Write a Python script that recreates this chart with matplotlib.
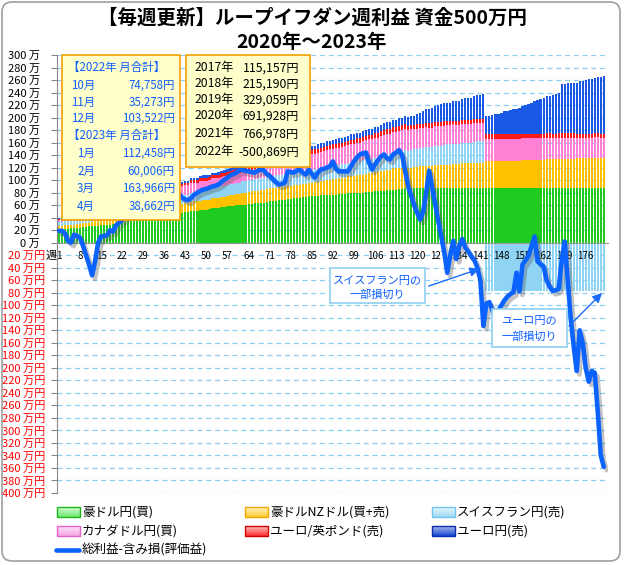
import numpy as np
import matplotlib.pyplot as plt
import matplotlib.patheffects as pe
from matplotlib.patches import Rectangle, FancyBboxPatch
from matplotlib.colors import LinearSegmentedColormap

plt.rcParams['font.family'] = ['Noto Sans CJK JP', 'DejaVu Sans']

### data (万円), one value per week
weeks = list(range(1, 183))

aud_jpy = [
    21, 21, 22, 22, 23, 23, 24, 24, 25, 25,
    26, 26, 27, 27, 28, 28, 29, 29, 30, 30,
    31, 32, 33, 34, 35, 36, 37, 38, 39, 40,
    41, 42, 42, 43, 44, 44, 45, 46, 46, 47,
    48, 48, 49, 49, 50, 51, 51, 52, 53, 53,
    54, 55, 55, 56, 57, 57, 58, 59, 59, 60,
    60, 61, 61, 62, 62, 63, 63, 64, 64, 65,
    66, 66, 67, 68, 68, 69, 70, 70, 71, 72,
    72, 73, 73, 74, 75, 75, 75, 76, 76, 76,
    77, 77, 77, 78, 78, 78, 79, 79, 79, 80,
    80, 80, 81, 81, 81, 82, 82, 83, 83, 84,
    84, 85, 85, 86, 86, 87, 87, 87, 88, 88,
    88, 88, 88, 88, 88, 88, 88, 88, 88, 88,
    88, 88, 88, 88, 88, 88, 88, 88, 88, 88,
    88, 88, 88, 88, 88, 88, 88, 88, 88, 88,
    88, 88, 88, 88, 88, 88, 88, 88, 88, 88,
    88, 88, 88, 88, 88, 88, 88, 88, 88, 88,
    88, 88, 88, 88, 88, 88, 88, 88, 88, 88,
    88, 88]

aud_nzd = [
    6, 6, 6, 6, 6, 6, 6, 6, 6, 6,
    6, 7, 7, 7, 7, 7, 7, 8, 8, 8,
    8, 8, 8, 9, 9, 9, 9, 10, 10, 10,
    10, 11, 11, 11, 12, 12, 12, 13, 13, 13,
    14, 14, 14, 14, 15, 15, 15, 15, 15, 15,
    15, 16, 16, 16, 16, 16, 16, 17, 17, 18,
    18, 19, 19, 19, 20, 20, 20, 21, 21, 21,
    21, 21, 21, 21, 21, 21, 21, 21, 21, 21,
    21, 21, 21, 21, 21, 22, 22, 23, 23, 24,
    24, 25, 25, 25, 26, 26, 27, 27, 27, 28,
    28, 29, 29, 30, 30, 31, 31, 32, 32, 33,
    33, 34, 34, 34, 34, 34, 33, 33, 33, 33,
    34, 34, 35, 35, 35, 36, 36, 36, 37, 37,
    37, 38, 38, 38, 39, 39, 39, 39, 40, 40,
    40, 40,
    42, 42, 42, 42, 42, 42, 43, 43, 43, 43,
    43, 43, 44, 44, 44, 44, 44, 44, 44, 44,
    45, 45, 45, 45, 46, 46, 46, 46, 46, 46,
    47, 47, 47, 47, 47, 47, 48, 48, 48, 48]

chf_jpy = [
    6, 6, 6, 6, 5, 5, 5, 5, 5, 5,
    5, 5, 6, 6, 6, 6, 7, 7, 7, 7,
    8, 8, 8, 8, 9, 9, 9, 9, 10, 10,
    10, 11, 11, 11, 12, 12, 12, 13, 13, 13,
    14, 14, 14, 14, 15, 15, 15, 16, 16, 16,
    16, 17, 17, 17, 17, 18, 18, 18, 18, 18,
    18, 18, 18, 19, 19, 19, 19, 19, 19, 19,
    19, 20, 20, 20, 20, 20, 20, 20, 21, 21,
    21, 21, 21, 21, 21, 21, 21, 21, 22, 22,
    22, 22, 22, 22, 22, 22, 22, 22, 22, 22,
    22, 23, 23, 23, 23, 23, 23, 23, 24, 24,
    24, 24, 24, 25, 26, 27, 27, 28, 28, 29,
    29, 29, 30, 30, 30, 31, 31, 31, 31, 32,
    32, 32, 32, 32, 33, 33, 33, 33, 33, 34,
    34, 34,
    -77, -77, -77, -77, -77, -77, -77, -77, -77, -77,
    -77, -77, -77, -77, -77, -77, -77, -77, -77, -77,
    -77, -77, -77, -77, -77, -77, -77, -77, -77, -77,
    -77, -77, -77, -77, -77, -77, -77, -77, -77, -77]

cad_jpy = [
    3, 3, 3, 3, 3, 4, 4, 4, 4, 4,
    4, 4, 5, 5, 5, 5, 6, 6, 6, 6,
    7, 7, 7, 8, 8, 8, 9, 9, 9, 10,
    10, 11, 11, 11, 12, 12, 13, 13, 13, 14,
    14, 14, 15, 15, 15, 15, 15, 15, 15, 15,
    15, 15, 15, 15, 15, 15, 15, 15, 16, 16,
    16, 16, 16, 16, 16, 16, 16, 16, 16, 16,
    17, 17, 18, 18, 19, 19, 20, 20, 21, 21,
    22, 22, 23, 23, 24, 24, 25, 25, 25, 26,
    26, 26, 27, 27, 27, 28, 28, 29, 29, 30,
    30, 30, 31, 31, 31, 32, 32, 32, 33, 33,
    33, 34, 34, 34, 34, 33, 33, 33, 32, 32,
    32, 32, 32, 31, 31, 31, 31, 31, 31, 31,
    31, 31, 30, 30, 30, 30, 30, 30, 30, 30,
    30, 30,
    35, 35, 35, 35, 35, 35, 35, 35, 35, 35,
    35, 35, 35, 35, 35, 35, 35, 35, 35, 35,
    35, 35, 34, 34, 34, 34, 34, 34, 34, 34,
    33, 33, 33, 33, 33, 33, 33, 33, 32, 32]

eur_gbp = [
    2, 2, 2, 2, 2, 2, 2, 2, 2, 2,
    2, 2, 2, 3, 3, 3, 3, 3, 3, 3,
    3, 3, 3, 3, 3, 3, 4, 4, 4, 4,
    4, 4, 4, 4, 4, 4, 4, 4, 4, 4,
    4, 4, 4, 4, 5, 5, 5, 5, 5, 5,
    5, 5, 5, 5, 6, 6, 6, 6, 6, 6,
    6, 6, 6, 7, 7, 7, 7, 7, 7, 7,
    7, 7, 7, 7, 7, 7, 7, 7, 7, 7,
    7, 7, 7, 7, 7, 7, 7, 7, 7, 7,
    7, 7, 7, 7, 7, 7, 7, 7, 7, 7,
    7, 7, 7, 7, 7, 7, 7, 8, 8, 8,
    8, 8, 8, 8, 8, 8, 7, 7, 7, 7,
    7, 7, 7, 7, 7, 7, 7, 7, 7, 7,
    6, 6, 6, 6, 6, 6, 6, 6, 6, 6,
    6, 6,
    8, 8, 8, 8, 8, 8, 8, 8, 8, 8,
    7, 7, 7, 7, 7, 7, 7, 7, 7, 7,
    7, 7, 7, 7, 7, 7, 7, 7, 7, 7,
    6, 6, 6, 6, 6, 6, 6, 6, 6, 6]

eur_jpy = [
    2, 2, 2, 2, 2, 2, 2, 2, 2, 2,
    2, 2, 2, 2, 2, 2, 2, 2, 2, 2,
    2, 2, 2, 2, 2, 3, 3, 3, 3, 3,
    3, 3, 3, 3, 3, 3, 3, 3, 3, 3,
    3, 3, 3, 3, 3, 3, 3, 4, 4, 4,
    4, 4, 4, 4, 4, 5, 5, 5, 5, 5,
    5, 5, 5, 5, 5, 5, 5, 5, 5, 5,
    5, 5, 5, 5, 5, 5, 6, 6, 6, 6,
    6, 6, 6, 6, 6, 6, 7, 7, 7, 7,
    7, 7, 8, 8, 8, 8, 8, 9, 9, 9,
    9, 9, 9, 10, 10, 10, 10, 10, 11, 11,
    11, 11, 11, 12, 12, 13, 14, 15, 15, 16,
    18, 20, 22, 23, 25, 26, 27, 28, 29, 29,
    30, 31, 32, 33, 34, 35, 36, 36, 37, 38,
    38, 39,
    29, 30, 31, 32, 33, 35, 36, 37, 38, 40,
    41, 42, 44, 46, 48, 50, 52, 54, 55, 57,
    59, 60, 62, 63, 65, 78, 79, 80, 80, 81,
    82, 84, 85, 86, 87, 88, 89, 90, 91, 92]

total = [
    19, 19, 15, 3, 0, 13, 11, 8, -5, -20,
    -35, -52, -30, 0, 10, 11, 12, 20, 18, 28,
    32, 36, 42, 48, 52, 55, 58, 62, 60, 64,
    68, 70, 74, 78, 76, 80, 82, 80, 78, 79,
    77, 72, 69, 68, 72, 77, 80, 83, 85, 86,
    88, 90, 91, 93, 97, 101, 104, 108, 110, 112,
    117, 116, 115, 114, 113, 112, 115, 117, 116, 110,
    107, 102, 97, 93, 94, 96, 114, 113, 112, 115,
    117, 112, 109, 117, 110, 104, 112, 117, 118, 120,
    122, 130, 118, 114, 114, 114, 114, 122, 130, 136,
    141, 143, 144, 128, 117, 125, 132, 138, 141, 135,
    133, 141, 144, 148, 140, 115, 90, 75, 60, 48,
    37, 50, 80, 115, 88, 60, 35, 10, -15, -48,
    -20, 3, -26, -5, 6, -8, -14, -22, -28, -40,
    -60, -133, -97, -95, -108, -122, -108, -100, -92, -86,
    -82, -79, -48, -78, -35, -28, -21, -5, 10, -30,
    -34, -38, -60, -70, -77, -76, -74, -30, 2, -60,
    -120, -165, -205, -140, -160, -200, -222, -205, -208, -270,
    -340, -358]

series_names = ['豪ドル円(買)', '豪ドルNZドル(買+売)', 'スイスフラン円(売)',
                'カナダドル円(買)', 'ユーロ/英ポンド(売)', 'ユーロ円(売)']
line_name = '総利益-含み損(評価益)'

monthly_2022 = [('10月', '74,758円'), ('11月', '35,273円'), ('12月', '103,522円')]
monthly_2023 = [('1月', '112,458円'), ('2月', '60,006円'), ('3月', '163,966円'), ('4月', '38,662円')]
yearly = [('2017年', '115,157円'), ('2018年', '215,190円'), ('2019年', '329,059円'),
          ('2020年', '691,928円'), ('2021年', '766,978円'), ('2022年', '-500,869円')]

bar_colors = ['#1ecb1e', '#ffc000', '#8fd4f5', '#ff80d5', '#ff1a1a', '#1a58e6']
leg_colors = [('#d8fcd8', '#6ee86e', '#1cb81c'), ('#fff2c0', '#ffcc33', '#f0a800'),
              ('#e6f6fd', '#9fdaf6', '#72c4ec'), ('#fde2f6', '#f4a8e6', '#e860c8'),
              ('#ffc0c0', '#ff3030', '#cc0000'), ('#a8b8ee', '#1a48d0', '#0a2eb0')]

### figure
fig = plt.figure(figsize=(6.24, 5.65), dpi=100)
ax = fig.add_axes([57 / 624, 72 / 565, 551 / 624, 438 / 565])

n = len(weeks)
pos = np.zeros(n)
neg = np.zeros(n)
for vals, col in zip([aud_jpy, aud_nzd, chf_jpy, cad_jpy, eur_gbp, eur_jpy], bar_colors):
    v = np.array(vals, dtype=float)
    base = np.where(v >= 0, pos, neg)
    ax.bar(weeks, v, bottom=base, width=0.72, color=col, linewidth=0, zorder=2)
    pos += np.where(v >= 0, v, 0)
    neg += np.where(v < 0, v, 0)

ax.plot(weeks, total, color='#0a62ff', lw=3.3, zorder=5, solid_joinstyle='round',
        solid_capstyle='round',
        path_effects=[pe.SimpleLineShadow(offset=(2, -2.5), shadow_color='#555555', alpha=0.35),
                      pe.Normal()])

ax.set_xlim(0.35, 183.4)
ax.set_ylim(-400, 300)

yt = list(range(-400, 301, 20))
ax.set_yticks(yt)
ax.set_yticklabels([f'{v} 万  ' if v >= 0 else f'{-v} 万円' for v in yt], fontsize=8)
for lab, v in zip(ax.get_yticklabels(), yt):
    lab.set_color('black' if v >= 0 else '#ff0000')
ax.tick_params(axis='y', length=4, color='#888888', pad=4.5)

ax.set_xticks(list(range(1, 177, 7)))
ax.tick_params(axis='x', length=0, labelsize=7, pad=6)

ax.grid(axis='y', color='#8ccff5', linestyle=(0, (4, 3)), lw=0.9)
ax.set_axisbelow(True)
ax.xaxis.set_zorder(4)   # week labels sit on top of the bars
for s in ['top', 'right']:
    ax.spines[s].set_visible(False)
ax.spines['bottom'].set_position(('data', 0))
ax.spines['bottom'].set_color('#999999')
ax.spines['left'].set_color('#888888')
ax.spines['bottom'].set_zorder(3)

### overlay in pixel coordinates for text / boxes / legend
ov = fig.add_axes([0, 0, 1, 1])
ov.axis('off')

ov.text(312, 18, '【毎週更新】ループイフダン週利益 資金500万円', ha='center', va='center',
        fontsize=14, fontweight='bold')
ov.text(312, 43, '2020年～2023年', ha='center', va='center', fontsize=14, fontweight='bold')
ov.text(57, 256, '週', ha='right', va='center', fontsize=8)

# monthly box
ov.add_patch(Rectangle((62, 55), 118, 165, facecolor='#ffffcc', edgecolor='#f5a000', lw=1.2))
blue_txt = '#1060ff'
ov.text(68, 67, '【2022年 月合計】', ha='left', va='center', fontsize=8.3, color=blue_txt)
ys = [85, 102, 118]
for (m, a), y in zip(monthly_2022, ys):
    ov.text(95, y, m, ha='right', va='center', fontsize=8.3, color=blue_txt)
    ov.text(175, y, a, ha='right', va='center', fontsize=8.3, color=blue_txt)
ov.text(68, 135, '【2023年 月合計】', ha='left', va='center', fontsize=8.3, color=blue_txt)
ys = [153, 171, 188, 206]
for (m, a), y in zip(monthly_2023, ys):
    ov.text(95, y, m, ha='right', va='center', fontsize=8.3, color=blue_txt)
    ov.text(175, y, a, ha='right', va='center', fontsize=8.3, color=blue_txt)

# yearly box
ov.add_patch(Rectangle((186, 55), 124, 112, facecolor='#ffffcc', edgecolor='#f5a000', lw=1.2))
ys = [68, 84, 100, 116, 134, 152]
for (yr, a), y in zip(yearly, ys):
    ov.text(195, y, yr, ha='left', va='center', fontsize=8.8, color='black')
    ov.text(299, y, a, ha='right', va='center', fontsize=8.8, color='black')

# annotations
ann_col = '#0a5cff'
ov.add_patch(Rectangle((330, 268), 95, 35, facecolor='white', edgecolor='#8fd0f0', lw=1.2))
ov.text(377, 281, 'スイスフラン円の', ha='center', va='center', fontsize=8, color=ann_col)
ov.text(377, 295, '一部損切り', ha='center', va='center', fontsize=8, color=ann_col)
ov.annotate('', xy=(482, 268), xytext=(426, 287),
            arrowprops=dict(arrowstyle='-|>', color='#1a6cff', lw=1, mutation_scale=14))

ov.add_patch(Rectangle((492, 309), 75, 38, facecolor='white', edgecolor='#8fd0f0', lw=1.2))
ov.text(529, 321, 'ユーロ円の', ha='center', va='center', fontsize=8, color=ann_col)
ov.text(529, 337, '一部損切り', ha='center', va='center', fontsize=8, color=ann_col)
ov.annotate('', xy=(604, 291), xytext=(567, 328),
            arrowprops=dict(arrowstyle='-|>', color='#1a6cff', lw=1, mutation_scale=14))

# legend
grad = np.linspace(0, 1, 16)[:, None]
cols_x = [57, 245, 432]
rows_y = [512, 531]
for i, (name, (c1, c2, ce)) in enumerate(zip(series_names, leg_colors)):
    x = cols_x[i % 3]
    y = rows_y[i // 3]
    cmap = LinearSegmentedColormap.from_list('g%d' % i, [c1, c2])
    ov.imshow(grad, extent=(x, x + 23, y + 5, y - 5), cmap=cmap, aspect='auto', zorder=3)
    ov.add_patch(Rectangle((x, y - 5), 23, 10, fill=False, edgecolor=ce, lw=1, zorder=4))
    ov.text(x + 25, y, name, ha='left', va='center', fontsize=9)
ov.plot([56, 79], [550, 550], color='#0a62ff', lw=3.3, solid_capstyle='round')
ov.text(82, 550, line_name, ha='left', va='center', fontsize=9)

# outer frame
ov.add_patch(FancyBboxPatch((2, 2), 618, 559, boxstyle='round,pad=0,rounding_size=10',
                            fill=False, edgecolor='#a0a0a0', lw=1.2))

ov.set_xlim(0, 624)
ov.set_ylim(565, 0)

plt.savefig('out.png', dpi=100)
